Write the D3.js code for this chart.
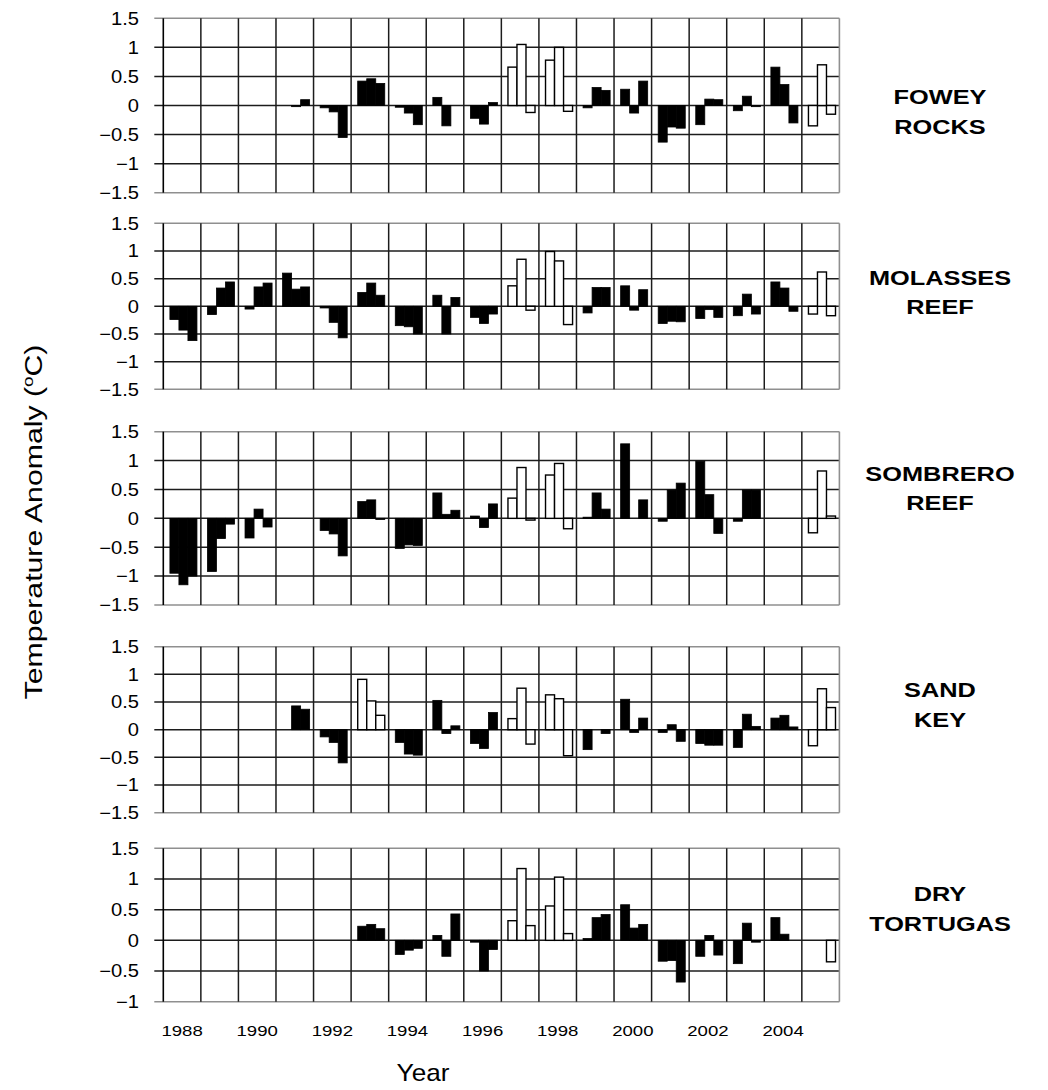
<!DOCTYPE html>
<html>
<head>
<meta charset="utf-8">
<script src="https://cdn.jsdelivr.net/npm/d3@7"></script>
<style>
  html, body { margin: 0; padding: 0; background: #fff; }
  svg { display: block; font-family: "Liberation Sans", Arial, sans-serif; }
</style>
</head>
<body>
<svg id="chart" width="1048" height="1090"></svg>
<script>
// Seasonal sea temperature anomalies (°C) at Florida Keys reef sites.
// Each year holds three seasonal values; null means no data.
const years = [1988, 1989, 1990, 1991, 1992, 1993, 1994, 1995, 1996,
               1997, 1998, 1999, 2000, 2001, 2002, 2003, 2004, 2005];
const seasons = ["spring", "summer", "fall"];
const yearLabels = ["1988", "1990", "1992", "1994", "1996", "1998", "2000", "2002", "2004"];
const siteNames = [["FOWEY", "ROCKS"], ["MOLASSES", "REEF"], ["SOMBRERO", "REEF"], ["SAND", "KEY"], ["DRY", "TORTUGAS"]];

const foweyRocks = [
  [null, null, null], [null, null, null], [null, null, null],
  [null, -0.02, 0.1], [-0.04, -0.11, -0.55], [0.42, 0.46, 0.38],
  [-0.03, -0.13, -0.33], [0.14, -0.35, null], [-0.22, -0.32, 0.05],
  [0.66, 1.05, -0.12], [0.78, 1.0, -0.1], [-0.04, 0.31, 0.26],
  [0.28, -0.13, 0.42], [-0.63, -0.37, -0.39], [-0.33, 0.11, 0.1],
  [-0.09, 0.16, -0.02], [0.66, 0.36, -0.3], [-0.35, 0.7, -0.15]
];
const molassesReef = [
  [-0.24, -0.43, -0.62], [-0.15, 0.33, 0.44], [-0.05, 0.35, 0.42],
  [0.6, 0.31, 0.35], [-0.03, -0.29, -0.57], [0.25, 0.42, 0.2],
  [-0.35, -0.37, -0.5], [0.2, -0.5, 0.16], [-0.2, -0.31, -0.14],
  [0.37, 0.85, -0.07], [0.99, 0.82, -0.33], [-0.12, 0.34, 0.34],
  [0.37, -0.07, 0.3], [-0.31, -0.27, -0.28], [-0.22, -0.06, -0.2],
  [-0.17, 0.22, -0.14], [0.44, 0.33, -0.09], [-0.14, 0.62, -0.17]
];
const sombreroReef = [
  [-0.95, -1.15, -1.0], [-0.92, -0.35, -0.1], [-0.34, 0.16, -0.15],
  [null, null, null], [-0.21, -0.27, -0.65], [0.29, 0.32, -0.02],
  [-0.52, -0.46, -0.47], [0.44, 0.07, 0.14], [0.04, -0.16, 0.25],
  [0.35, 0.88, -0.03], [0.75, 0.95, -0.18], [0.02, 0.44, 0.16],
  [1.29, null, 0.32], [-0.05, 0.49, 0.61], [0.99, 0.41, -0.26],
  [-0.05, 0.49, 0.49], [null, null, null], [-0.25, 0.82, 0.04]
];
const sandKey = [
  [null, null, null], [null, null, null], [null, null, null],
  [null, 0.43, 0.37], [-0.13, -0.23, -0.6], [0.91, 0.52, 0.26],
  [-0.23, -0.44, -0.46], [0.53, -0.07, 0.07], [-0.25, -0.34, 0.31],
  [0.2, 0.75, -0.26], [0.63, 0.56, -0.47], [-0.36, null, -0.07],
  [0.55, -0.05, 0.21], [-0.05, 0.09, -0.21], [-0.25, -0.28, -0.28],
  [-0.32, 0.28, 0.06], [0.21, 0.26, 0.05], [-0.29, 0.74, 0.4]
];
const dryTortugas = [
  [null, null, null], [null, null, null], [null, null, null],
  [null, null, null], [null, null, null], [0.23, 0.26, 0.19],
  [-0.23, -0.16, -0.13], [0.08, -0.26, 0.43], [-0.03, -0.5, -0.15],
  [0.32, 1.17, 0.24], [0.56, 1.03, 0.11], [0.03, 0.37, 0.42],
  [0.58, 0.2, 0.26], [-0.34, -0.33, -0.68], [-0.26, 0.08, -0.24],
  [-0.38, 0.28, -0.03], [0.37, 0.1, null], [null, null, -0.35]
];
// Years drawn as open (white) bars at each site
const openYears = [
  [1997, 1998, 2005], [1997, 1998, 2005], [1997, 1998, 2005],
  [1993, 1997, 1998, 2005], [1997, 1998, 2005]
];
const ticksFull = [1.5, 1, 0.5, 0, -0.5, -1, -1.5];
const ticksShort = [1.5, 1, 0.5, 0, -0.5, -1];

const siteValues = [foweyRocks, molassesReef, sombreroReef, sandKey, dryTortugas];
const siteTicks = [ticksFull, ticksFull, ticksFull, ticksFull, ticksShort];

// Panel layout (pixels)
const panels = [
  { top: 18.3, bottom: 192.7, label: [97, 127] },
  { top: 223.3, bottom: 389.3, label: [278, 307] },
  { top: 431.7, bottom: 605, label: [474, 503] },
  { top: 646.7, bottom: 812.7, label: [690, 720] },
  { top: 848.3, bottom: 1001.7, label: [894, 924] }
];
const left = 163.3, right = 839.4;
const FONT = '"Liberation Sans", Arial, sans-serif';

const svg = d3.select("#chart");

// wide-set text: placed at (x, y) and stretched horizontally by sx
function wideText(x, y, sx, size, anchor, str, bold) {
  return svg.append("text")
    .attr("transform", `translate(${x},${y}) scale(${sx},1)`)
    .attr("text-anchor", anchor).attr("font-family", FONT)
    .attr("font-size", size).attr("font-weight", bold ? "bold" : "normal")
    .attr("fill", "#000").text(str);
}

const x = d3.scaleBand().domain(years).range([left, right]).padding(0);
const bw = x.bandwidth();
const xs = d3.scaleBand().domain(d3.range(seasons.length)).range([0.176 * bw, 0.896 * bw]).padding(0);

panels.forEach((p, pi) => {
  const ticks = siteTicks[pi];
  const y = d3.scaleLinear().domain([d3.min(ticks), d3.max(ticks)]).range([p.bottom, p.top]);
  const g = svg.append("g");

  // horizontal grid
  g.selectAll("line.h").data(ticks).join("line")
    .attr("x1", left - 9).attr("x2", right)
    .attr("y1", d => y(d)).attr("y2", d => y(d))
    .attr("stroke", (d, i) => (i === 0 || i === ticks.length - 1) ? "#8f8f8f" : "#1c1c1c")
    .attr("stroke-width", 1.5);
  // vertical year lines
  g.selectAll("line.v").data(years.slice(1)).join("line")
    .attr("x1", d => x(d)).attr("x2", d => x(d))
    .attr("y1", p.top).attr("y2", p.bottom)
    .attr("stroke", "#1c1c1c").attr("stroke-width", 1.5);
  // right border
  g.append("line").attr("x1", right).attr("x2", right).attr("y1", p.top).attr("y2", p.bottom)
    .attr("stroke", "#8f8f8f").attr("stroke-width", 1.6);
  // left axis
  g.append("line").attr("x1", left).attr("x2", left).attr("y1", p.top).attr("y2", p.bottom)
    .attr("stroke", "#000").attr("stroke-width", 1.6);

  // bars
  const vals = siteValues[pi];
  const bars = [];
  years.forEach((yr, i) => {
    vals[i].forEach((v, k) => {
      if (v !== null) bars.push({ yr, k, v, open: openYears[pi].includes(yr) });
    });
  });
  g.selectAll("rect.bar").data(bars).join("rect")
    .attr("x", d => x(d.yr) + xs(d.k))
    .attr("width", xs.bandwidth())
    .attr("y", d => y(Math.max(0, d.v)))
    .attr("height", d => Math.max(0.8, Math.abs(y(d.v) - y(0))))
    .attr("fill", d => d.open ? "#fff" : "#000")
    .attr("stroke", "#000")
    .attr("stroke-width", d => d.open ? 1.4 : 0.8);

  // tick labels
  ticks.forEach(t => wideText(139, y(t) + 6.3, 1.15, 17.5, "end", d3.format("")(t), false));

  // site name
  siteNames[pi].forEach((line, li) => wideText(940, p.label[li] + 7, 1.3, 19.5, "middle", line, true));
});

// x labels (every other year, centred on the year column)
yearLabels.forEach(d => wideText(x(+d) + bw / 2, 1036, 1.2, 15.5, "middle", d, false));

wideText(423, 1081, 1.09, 24, "middle", "Year", false);

const yt = svg.append("text").attr("transform", "translate(42,522) rotate(-90) scale(1.26,1)")
  .attr("text-anchor", "middle").attr("font-family", FONT).attr("font-size", 24);
yt.append("tspan").text("Temperature Anomaly (");
yt.append("tspan").attr("font-size", 15).attr("dy", -9).text("o");
yt.append("tspan").attr("dy", 9).text("C)");
</script>
</body>
</html>
